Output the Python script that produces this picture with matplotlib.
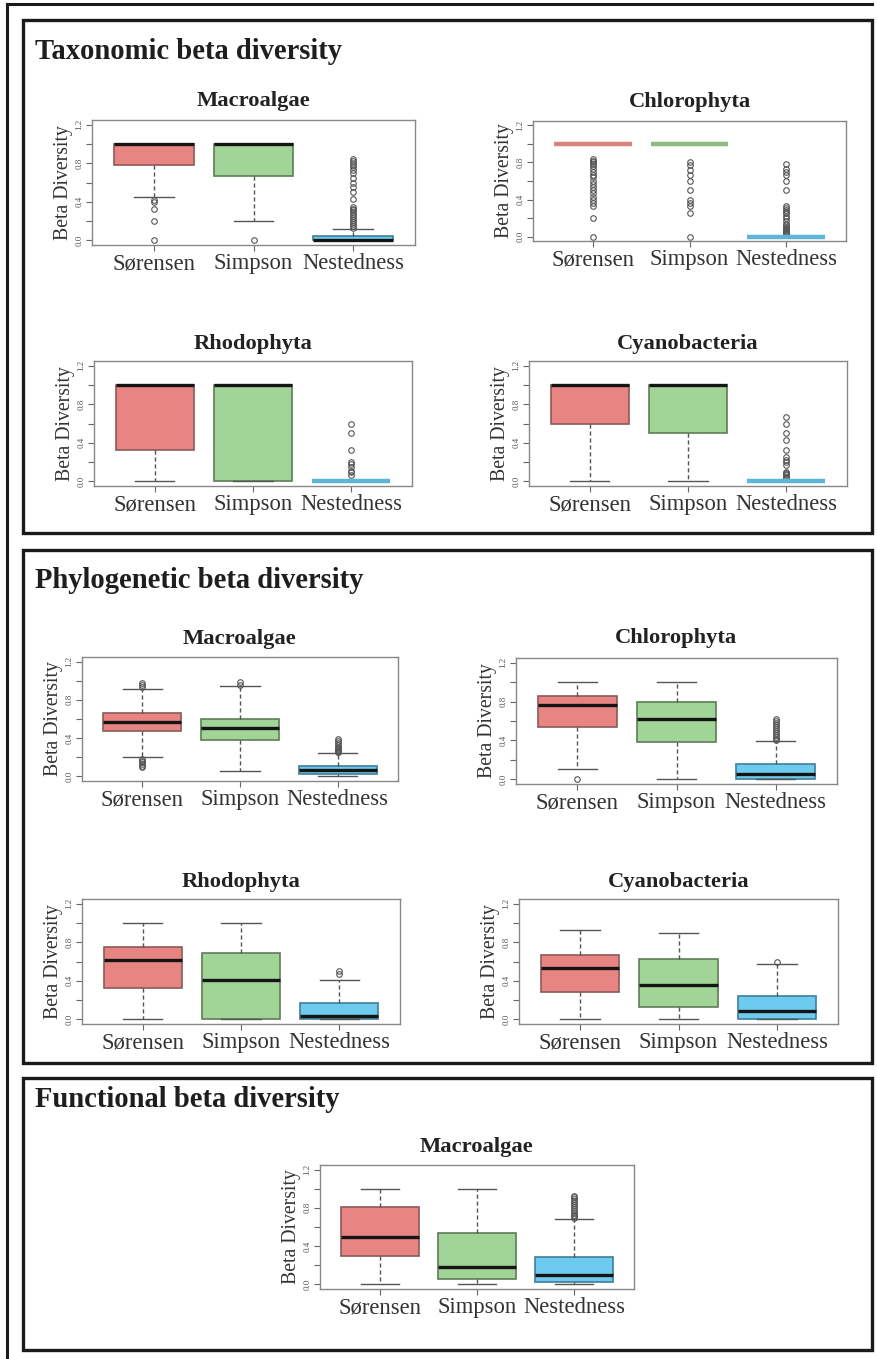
import numpy as np
import matplotlib.pyplot as plt
from matplotlib.patches import Rectangle
from matplotlib.lines import Line2D

W, H = 877, 1359
groups = ["Sørensen", "Simpson", "Nestedness"]

# ---------------------------
# Taxonomic beta diversity
# ---------------------------
tax_macro_lo = [0.45, 0.20, 0.0]
tax_macro_q1 = [0.78, 0.67, 0.0]
tax_macro_med = [1.0, 1.0, 0.0]
tax_macro_q3 = [1.0, 1.0, 0.05]
tax_macro_hi = [1.0, 1.0, 0.12]
tax_macro_fliers = [
    [0.42, 0.40, 0.33, 0.20, 0.0],
    [0.0],
    [0.13, 0.15, 0.17, 0.19, 0.21, 0.23, 0.25, 0.27, 0.29, 0.31, 0.33, 0.35,
     0.43, 0.50, 0.55, 0.60, 0.65, 0.70, 0.73, 0.76, 0.78, 0.80, 0.82, 0.84],
]

tax_chloro_lo = [1.0, 1.0, 0.0]
tax_chloro_q1 = [1.0, 1.0, 0.0]
tax_chloro_med = [1.0, 1.0, 0.0]
tax_chloro_q3 = [1.0, 1.0, 0.0]
tax_chloro_hi = [1.0, 1.0, 0.0]
tax_chloro_fliers = [
    [0.84, 0.82, 0.80, 0.78, 0.76, 0.73, 0.70, 0.67, 0.64, 0.60, 0.57, 0.53,
     0.50, 0.47, 0.43, 0.40, 0.36, 0.33, 0.20, 0.0],
    [0.80, 0.77, 0.72, 0.67, 0.60, 0.50, 0.40, 0.36, 0.33, 0.25, 0.0],
    [0.78, 0.73, 0.70, 0.67, 0.60, 0.50, 0.33, 0.31, 0.29, 0.27, 0.25, 0.22,
     0.20, 0.17, 0.14, 0.12, 0.10, 0.09, 0.08, 0.07, 0.06, 0.05, 0.04, 0.03],
]

tax_rhodo_lo = [0.0, 0.0, 0.0]
tax_rhodo_q1 = [0.33, 0.0, 0.0]
tax_rhodo_med = [1.0, 1.0, 0.0]
tax_rhodo_q3 = [1.0, 1.0, 0.0]
tax_rhodo_hi = [1.0, 1.0, 0.0]
tax_rhodo_fliers = [
    [],
    [],
    [0.60, 0.50, 0.33, 0.20, 0.18, 0.15, 0.11, 0.10, 0.07],
]

tax_cyano_lo = [0.0, 0.0, 0.0]
tax_cyano_q1 = [0.60, 0.50, 0.0]
tax_cyano_med = [1.0, 1.0, 0.0]
tax_cyano_q3 = [1.0, 1.0, 0.0]
tax_cyano_hi = [1.0, 1.0, 0.0]
tax_cyano_fliers = [
    [],
    [],
    [0.67, 0.60, 0.50, 0.43, 0.33, 0.25, 0.22, 0.20, 0.17, 0.10, 0.09, 0.08,
     0.07, 0.05, 0.04],
]

# ---------------------------
# Phylogenetic beta diversity
# ---------------------------
phy_macro_lo = [0.20, 0.06, 0.0]
phy_macro_q1 = [0.47, 0.38, 0.03]
phy_macro_med = [0.57, 0.51, 0.07]
phy_macro_q3 = [0.66, 0.60, 0.11]
phy_macro_hi = [0.91, 0.94, 0.24]
phy_macro_fliers = [
    [0.93, 0.96, 0.98, 0.18, 0.16, 0.15, 0.13, 0.11, 0.10],
    [0.96, 0.99],
    [0.25, 0.26, 0.27, 0.28, 0.29, 0.30, 0.31, 0.33, 0.35, 0.37, 0.39],
]

phy_chloro_lo = [0.11, 0.0, 0.0]
phy_chloro_q1 = [0.54, 0.38, 0.0]
phy_chloro_med = [0.76, 0.62, 0.06]
phy_chloro_q3 = [0.86, 0.80, 0.16]
phy_chloro_hi = [1.0, 1.0, 0.39]
phy_chloro_fliers = [
    [0.0],
    [],
    [0.40, 0.42, 0.44, 0.46, 0.48, 0.50, 0.52, 0.54, 0.56, 0.58, 0.60, 0.62],
]

phy_rhodo_lo = [0.0, 0.0, 0.0]
phy_rhodo_q1 = [0.33, 0.0, 0.0]
phy_rhodo_med = [0.62, 0.41, 0.04]
phy_rhodo_q3 = [0.75, 0.69, 0.17]
phy_rhodo_hi = [1.0, 1.0, 0.41]
phy_rhodo_fliers = [[], [], [0.47, 0.50]]

phy_cyano_lo = [0.0, 0.0, 0.0]
phy_cyano_q1 = [0.28, 0.13, 0.0]
phy_cyano_med = [0.53, 0.36, 0.09]
phy_cyano_q3 = [0.67, 0.63, 0.24]
phy_cyano_hi = [0.93, 0.90, 0.57]
phy_cyano_fliers = [[], [], [0.60]]

# ---------------------------
# Functional beta diversity
# ---------------------------
fun_macro_lo = [0.0, 0.0, 0.0]
fun_macro_q1 = [0.30, 0.06, 0.03]
fun_macro_med = [0.50, 0.18, 0.10]
fun_macro_q3 = [0.81, 0.54, 0.29]
fun_macro_hi = [1.0, 1.0, 0.68]
fun_macro_fliers = [
    [],
    [],
    [0.69, 0.71, 0.73, 0.75, 0.77, 0.79, 0.81, 0.83, 0.85, 0.87, 0.89, 0.91, 0.92],
]

face_cols = ["#E88582", "#A1D597", "#6DCBEF"]
edge_cols = ["#8A5A58", "#5E7D58", "#3F7F98"]
flat_cols = ["#D9837F", "#8DB983", "#5FB5D8"]

plt.rcParams['font.family'] = ['Liberation Serif', 'DejaVu Serif']

fig = plt.figure(figsize=(W / 100, H / 100), dpi=100)


def px_axes(l, t, r, b):
    return fig.add_axes([l / W, 1 - b / H, (r - l) / W, (b - t) / H])


def draw_box(rect, title, title_y, lo, q1, med, q3, hi, fliers):
    l, t, r, b = rect
    ax = px_axes(l, t, r, b)
    stats = []
    for i in range(3):
        stats.append(dict(whislo=lo[i], q1=q1[i], med=med[i], q3=q3[i],
                          whishi=hi[i], fliers=fliers[i], label=groups[i]))
    parts = ax.bxp(stats, positions=[1, 2, 3], widths=0.8, capwidths=0.4,
                   patch_artist=True,
                   whiskerprops=dict(color="#555555", lw=1.0, ls=(0, (3, 2))),
                   capprops=dict(color="#555555", lw=1.0),
                   medianprops=dict(color="#151515", lw=2.4),
                   flierprops=dict(marker="o", markersize=4, markerfacecolor="none",
                                   markeredgecolor="#555555", markeredgewidth=0.8))
    for i, box in enumerate(parts["boxes"]):
        box.set_facecolor(face_cols[i])
        box.set_edgecolor(edge_cols[i])
        box.set_linewidth(1.2)
        if q1[i] == q3[i]:
            parts["medians"][i].set_color(flat_cols[i])
            parts["medians"][i].set_linewidth(3.2)
            parts["medians"][i].set_zorder(4)
    # R style axis range: 4% padding on each side
    ax.set_xlim(0.38, 3.62)
    ax.set_ylim(-0.048, 1.248)
    ax.set_yticks(np.arange(0, 1.21, 0.2))
    ax.set_yticklabels(["0.0", "", "0.4", "", "0.8", "", "1.2"])
    ax.tick_params(axis="y", labelrotation=90, labelsize=6.5, length=4, pad=2,
                   colors="#666666", labelcolor="#555555")
    for lab in ax.get_yticklabels():
        lab.set_va("center")
    ax.tick_params(axis="x", labelsize=16.3, length=4, pad=2,
                   colors="#666666", labelcolor="#333333")
    for s in ax.spines.values():
        s.set_color("#888888")
        s.set_linewidth(1.0)
    ax.set_ylabel("Beta Diversity", fontsize=14.2, color="#333333", labelpad=2)
    fig.text((l + r) / 2 / W, 1 - title_y / H, title, ha="center", va="baseline",
             fontsize=16.2, fontweight="bold", color="#222222")
    return ax


def panel(t, b, heading, head_y):
    fig.patches.append(Rectangle((23 / W, 1 - b / H), (872 - 23) / W, (b - t) / H,
                                 transform=fig.transFigure, fill=False,
                                 edgecolor="#1a1a1a", lw=2.4))
    fig.text(35 / W, 1 - head_y / H, heading, ha="left", va="baseline",
             fontsize=20.6, fontweight="bold", color="#1e1e1e")


# outer frame (left and top only)
fig.lines.append(Line2D([7 / W, 7 / W], [0, 1 - 4 / H], transform=fig.transFigure,
                        color="#1a1a1a", lw=2.2))
fig.lines.append(Line2D([7 / W, 872 / W], [1 - 4 / H, 1 - 4 / H],
                        transform=fig.transFigure, color="#1a1a1a", lw=2.2))

panel(20, 533, "Taxonomic beta diversity", 59)
panel(550, 1063, "Phylogenetic beta diversity", 588)
panel(1078, 1350, "Functional beta diversity", 1107)

draw_box((92, 120, 415, 245), "Macroalgae", 106,
         tax_macro_lo, tax_macro_q1, tax_macro_med, tax_macro_q3, tax_macro_hi, tax_macro_fliers)
draw_box((533, 121, 846, 241), "Chlorophyta", 107,
         tax_chloro_lo, tax_chloro_q1, tax_chloro_med, tax_chloro_q3, tax_chloro_hi, tax_chloro_fliers)
draw_box((94, 361, 412, 486), "Rhodophyta", 349,
         tax_rhodo_lo, tax_rhodo_q1, tax_rhodo_med, tax_rhodo_q3, tax_rhodo_hi, tax_rhodo_fliers)
draw_box((529, 361, 847, 486), "Cyanobacteria", 349,
         tax_cyano_lo, tax_cyano_q1, tax_cyano_med, tax_cyano_q3, tax_cyano_hi, tax_cyano_fliers)

draw_box((82, 657, 398, 781), "Macroalgae", 644,
         phy_macro_lo, phy_macro_q1, phy_macro_med, phy_macro_q3, phy_macro_hi, phy_macro_fliers)
draw_box((516, 658, 837, 784), "Chlorophyta", 643,
         phy_chloro_lo, phy_chloro_q1, phy_chloro_med, phy_chloro_q3, phy_chloro_hi, phy_chloro_fliers)
draw_box((82, 899, 400, 1024), "Rhodophyta", 887,
         phy_rhodo_lo, phy_rhodo_q1, phy_rhodo_med, phy_rhodo_q3, phy_rhodo_hi, phy_rhodo_fliers)
draw_box((519, 899, 838, 1024), "Cyanobacteria", 887,
         phy_cyano_lo, phy_cyano_q1, phy_cyano_med, phy_cyano_q3, phy_cyano_hi, phy_cyano_fliers)

draw_box((320, 1165, 634, 1289), "Macroalgae", 1152,
         fun_macro_lo, fun_macro_q1, fun_macro_med, fun_macro_q3, fun_macro_hi, fun_macro_fliers)

fig.savefig("out.png", dpi=100)
